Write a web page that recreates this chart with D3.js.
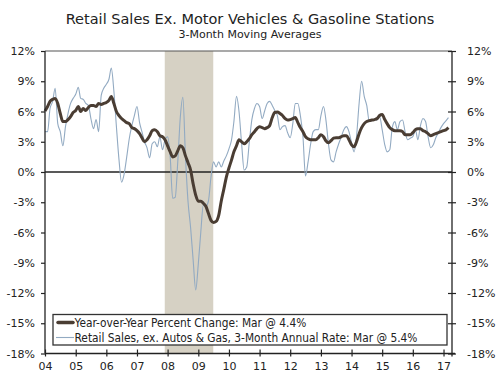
<!DOCTYPE html>
<html>
<head>
<meta charset="utf-8">
<script src="https://cdn.jsdelivr.net/npm/d3@7"></script>
<style>
  body { margin: 0; background: #fff; }
  text { font-family: "DejaVu Sans", Verdana, sans-serif; fill: #222; }
</style>
</head>
<body>
<div id="chart"></div>
<script>
// monthly data, Jan 2004 - Mar 2017
const firstMonth = new Date(2004, 0, 1);

// year-over-year percent change (3-mo moving avg)
const yoyChange = [
  6.05, 6.5, 7.0, 7.2, 7.3, 6.8, 5.8, 5.0, 5.0, 5.2, 5.5, 5.9,
  6.1, 6.5, 6.0, 6.3, 6.1, 6.4, 6.6, 6.6, 6.5, 6.8, 6.7, 6.8,
  6.9, 7.1, 7.5, 6.8, 6.0, 5.6, 5.3, 5.1, 4.9, 4.8, 4.4, 4.3,
  4.1, 3.8, 3.4, 3.0, 3.2, 3.6, 4.1, 4.2, 4.0, 3.6, 3.5, 3.2,
  2.6, 2.0, 1.5, 1.6, 2.1, 2.6, 2.4, 1.6, 0.9, 0.2, -1.2, -2.3,
  -2.9, -2.9, -3.1, -3.4, -4.1, -4.8, -5.0, -4.9, -4.3, -2.9, -1.7, -0.5,
  0.4, 1.2, 2.0, 2.6, 3.2, 3.0, 2.8, 3.0, 3.3, 3.7, 4.0, 4.3,
  4.5, 4.4, 4.3, 4.4, 4.6, 5.4, 5.9, 5.95, 5.8, 5.6, 5.3, 5.15,
  5.2, 5.3, 5.4, 4.9, 4.4, 4.0, 3.5, 3.3, 3.2, 3.2, 3.2, 3.4,
  3.7, 3.5, 3.1, 2.9, 3.1, 3.35, 3.4, 3.4, 3.5, 3.6, 3.6, 3.2,
  2.7, 2.5, 3.0, 3.8, 4.4, 4.8, 5.0, 5.1, 5.15, 5.2, 5.3, 5.6,
  5.7, 5.2, 4.8, 4.4, 4.2, 4.1, 4.1, 4.1, 4.0, 3.7, 3.7, 3.7,
  3.9, 4.2, 4.3, 4.3, 4.1, 4.0, 3.8, 3.6, 3.7, 3.8, 3.9, 4.0,
  4.1, 4.2, 4.4
];

// 3-month annual rate
const annualRate = [
  4.0, 4.0, 6.3, 7.0, 8.3, 4.8, 4.0, 2.6, 4.5, 5.8, 6.8, 7.3,
  7.7, 8.4, 7.3, 7.2, 6.8, 6.6, 5.3, 4.3, 5.2, 4.0, 7.6, 8.3,
  8.7, 9.2, 10.3, 8.0, 4.5, 1.2, -1.0, -0.2, 1.5, 3.3, 4.6, 5.6,
  6.5, 4.9, 4.0, 3.0, 2.4, 1.4, 2.8, 3.0, 2.5, 3.5, 2.2, 3.2,
  3.5, 1.5, -2.6, -2.5, 1.0, 5.5, 7.4, 1.5, -3.0, -5.5, -8.8, -11.7,
  -9.1, -5.8, -3.3, -3.4, -2.9, -0.5, 1.0, 0.5, 1.0, 0.5, 1.1, 1.6,
  2.3, 3.2, 5.0, 7.5, 6.0, 2.8, 0.2, 0.5, 3.0, 5.2, 6.3, 6.8,
  6.5, 5.3, 6.0, 6.8, 7.0, 6.6, 6.1, 5.6, 4.2, 4.5, 4.6, 3.9,
  3.4, 4.8, 6.8, 6.8, 5.6, 3.5, -0.4, 1.0, 2.8, 4.0, 4.2, 4.2,
  5.6, 6.5, 5.2, 2.8, 1.2, 1.0, 2.0, 2.8, 3.5, 4.2, 4.5, 4.0,
  2.9, 2.0, 3.5, 6.8, 9.0, 7.5, 6.6, 5.0, 5.1, 5.2, 5.15, 5.5,
  4.2, 2.7, 2.0, 2.2, 4.4, 5.0, 4.2, 5.0, 5.15, 4.0, 3.2, 3.35,
  3.5, 4.2, 3.2, 4.6, 5.3, 5.0, 3.5, 2.4, 2.7, 3.4, 3.9, 4.4,
  4.8, 5.1, 5.4
];

const yTicks = [12, 9, 6, 3, 0, -3, -6, -9, -12, -15, -18];
const xTickYears = [2004, 2005, 2006, 2007, 2008, 2009, 2010, 2011, 2012, 2013, 2014, 2015, 2016, 2017];
const recession = [new Date(2007, 10, 28), new Date(2009, 5, 28)];
const legendLabels = [
  "Year-over-Year Percent Change: Mar @ 4.4%",
  "Retail Sales, ex. Autos & Gas, 3-Month Annual Rate: Mar @ 5.4%"
];

const width = 500, height = 375;
const plotLeft = 45, plotRight = 452, plotTop = 51, plotBottom = 353.5;

const svg = d3.select("#chart").append("svg")
  .attr("width", width)
  .attr("height", height);

const x = d3.scaleTime()
  .domain([firstMonth, new Date(2017, 3, 12)])
  .range([plotLeft, plotRight]);

const y = d3.scaleLinear()
  .domain([-18, 12])
  .range([plotBottom, plotTop]);

const monthDate = i => d3.timeMonth.offset(firstMonth, i);

// recession shading
svg.append("rect")
  .attr("x", x(recession[0]))
  .attr("y", plotTop)
  .attr("width", x(recession[1]) - x(recession[0]))
  .attr("height", plotBottom - plotTop)
  .attr("fill", "#d6d1c4");

// top frame line
svg.append("line")
  .attr("x1", plotLeft).attr("x2", plotRight)
  .attr("y1", y(12)).attr("y2", y(12))
  .attr("stroke", "#555").attr("stroke-width", 1.2);

// zero line
svg.append("line")
  .attr("x1", plotLeft).attr("x2", plotRight)
  .attr("y1", y(0)).attr("y2", y(0))
  .attr("stroke", "#222").attr("stroke-width", 1.3);

const line = d3.line()
  .x((d, i) => x(monthDate(i)))
  .y(d => y(d))
  .curve(d3.curveMonotoneX);

svg.append("path")
  .datum(annualRate)
  .attr("d", line)
  .attr("fill", "none")
  .attr("stroke", "#92aac2")
  .attr("stroke-width", 1.1);

svg.append("path")
  .datum(yoyChange)
  .attr("d", line)
  .attr("fill", "none")
  .attr("stroke", "#4a3d33")
  .attr("stroke-width", 3)
  .attr("stroke-linejoin", "round");

// left axis
const yAxisLeft = svg.append("g")
  .attr("transform", `translate(${plotLeft},0)`)
  .call(d3.axisLeft(y).tickValues(yTicks).tickSize(4).tickPadding(6).tickFormat(d => d + "%"));

// right axis, ticks crossing the line
const yAxisRight = svg.append("g")
  .attr("transform", `translate(${plotRight},0)`)
  .call(d3.axisRight(y).tickValues(yTicks).tickSize(4).tickPadding(11).tickFormat(d => d + "%"));
yAxisRight.selectAll(".tick line").attr("x1", -4);

// bottom axis, ticks crossing the line
const xAxis = svg.append("g")
  .attr("transform", `translate(0,${plotBottom})`)
  .call(d3.axisBottom(x)
    .tickValues(xTickYears.map(yr => new Date(yr, 0, 1)))
    .tickSize(3).tickPadding(6)
    .tickFormat(d3.timeFormat("%y")));
xAxis.selectAll(".tick line").attr("y1", -4);

[yAxisLeft, yAxisRight, xAxis].forEach(g => {
  g.select(".domain").attr("stroke", "#222").attr("stroke-width", 1.3);
  g.selectAll(".tick line").attr("stroke", "#222").attr("stroke-width", 1.2);
  g.selectAll(".tick text").style("font-size", "11px").attr("fill", "#222");
});
yAxisLeft.select(".domain").attr("d", `M0,${plotTop}V${plotBottom}`);
yAxisRight.select(".domain").attr("d", `M0,${plotTop}V${plotBottom + 3}`);
xAxis.select(".domain").attr("d", `M${plotLeft},0H${plotRight + 3}`);

// legend
const legend = svg.append("g");
legend.append("rect")
  .attr("x", 53).attr("y", 314.5)
  .attr("width", 394).attr("height", 30.5)
  .attr("fill", "#fff")
  .attr("stroke", "#333").attr("stroke-width", 1.3);

legend.append("line")
  .attr("x1", 58).attr("x2", 73).attr("y1", 322.5).attr("y2", 322.5)
  .attr("stroke", "#4a3d33").attr("stroke-width", 3.5).attr("stroke-linecap", "round");
legend.append("line")
  .attr("x1", 56).attr("x2", 74).attr("y1", 337.5).attr("y2", 337.5)
  .attr("stroke", "#92aac2").attr("stroke-width", 1.1);

legend.selectAll("text.lbl")
  .data(legendLabels)
  .join("text")
  .attr("class", "lbl")
  .attr("x", 74.5)
  .attr("y", (d, i) => 326.5 + i * 15)
  .style("font-family", "'DejaVu Sans Condensed', 'DejaVu Sans', sans-serif")
  .style("font-size", "11.8px")
  .text(d => d);

// titles
svg.append("text")
  .attr("x", 250).attr("y", 24)
  .attr("text-anchor", "middle")
  .style("font-size", "14.5px")
  .text("Retail Sales Ex. Motor Vehicles & Gasoline Stations");

svg.append("text")
  .attr("x", 250).attr("y", 37.5)
  .attr("text-anchor", "middle")
  .style("font-size", "11px")
  .text("3-Month Moving Averages");
</script>
</body>
</html>
